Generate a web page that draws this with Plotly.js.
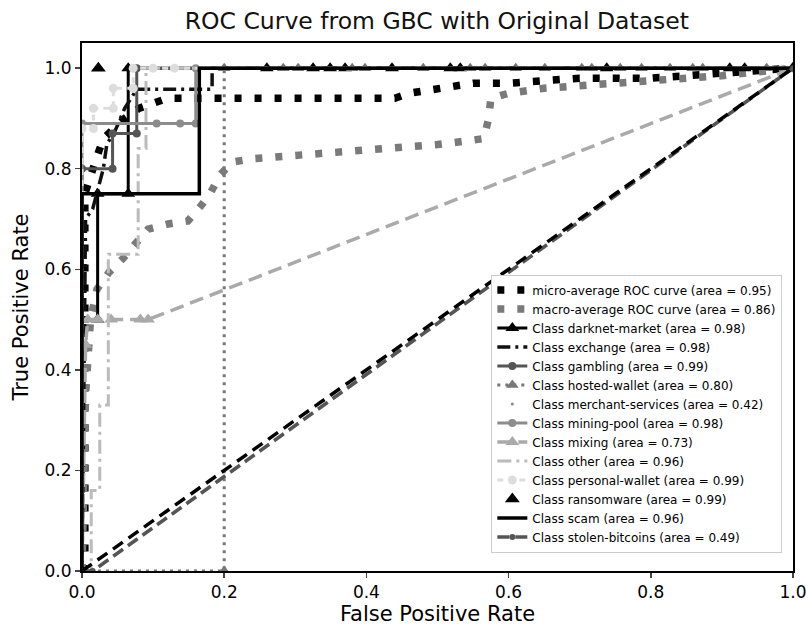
<!DOCTYPE html>
<html>
<head>
<meta charset="utf-8">
<script src="https://cdn.plot.ly/plotly-3.0.1.min.js"></script>
<style>html,body{margin:0;padding:0;background:#fff;}#chart{width:806px;height:631px;}</style>
</head>
<body>
<div id="chart"></div>
<script>
// ---- data ----
const seriesNames = [
  "micro-average ROC curve (area = 0.95)",
  "macro-average ROC curve (area = 0.86)",
  "Class darknet-market (area = 0.98)",
  "Class exchange (area = 0.98)",
  "Class gambling (area = 0.99)",
  "Class hosted-wallet (area = 0.80)",
  "Class merchant-services (area = 0.42)",
  "Class mining-pool (area = 0.98)",
  "Class mixing (area = 0.73)",
  "Class other (area = 0.96)",
  "Class personal-wallet (area = 0.99)",
  "Class ransomware (area = 0.99)",
  "Class scam (area = 0.96)",
  "Class stolen-bitcoins (area = 0.49)"
];
const microFpr = [0, 0.004, 0.004, 0.01, 0.02, 0.03, 0.045, 0.06, 0.08, 0.1, 0.12, 0.2, 0.3, 0.44, 0.46, 0.5, 0.55, 0.6, 0.7, 0.8, 0.9, 1];
const microTpr = [0, 0.02, 0.75, 0.78, 0.82, 0.86, 0.88, 0.9, 0.92, 0.93, 0.94, 0.94, 0.94, 0.94, 0.95, 0.96, 0.97, 0.97, 0.98, 0.98, 0.99, 1];
const macroFpr = [0, 0.005, 0.012, 0.021, 0.038, 0.058, 0.077, 0.093, 0.121, 0.149, 0.166, 0.18, 0.194, 0.211, 0.24, 0.3, 0.4, 0.5, 0.54, 0.565, 0.572, 0.575, 0.6, 0.65, 0.7, 0.8, 0.9, 1];
const macroTpr = [0, 0.35, 0.5, 0.56, 0.594, 0.622, 0.654, 0.68, 0.69, 0.696, 0.724, 0.75, 0.787, 0.813, 0.82, 0.826, 0.836, 0.848, 0.855, 0.86, 0.9, 0.94, 0.95, 0.96, 0.965, 0.975, 0.985, 1];
const darknetFpr = [0, 0, 0.022, 0.022, 0.065, 0.065, 0.26, 0.325, 0.349, 0.37, 0.436, 0.518, 0.532, 0.738, 0.911, 0.932, 1];
const darknetTpr = [0, 0.5, 0.5, 0.75, 0.75, 1, 1, 1, 1, 1, 1, 1, 1, 1, 1, 1, 1];
const exchangeFpr = [0, 0.003, 0.005, 0.015, 0.03, 0.035, 0.045, 0.06, 0.077, 0.183, 0.183, 1];
const exchangeTpr = [0, 0.5, 0.7, 0.72, 0.8, 0.85, 0.87, 0.92, 0.958, 0.958, 1, 1];
const gamblingFpr = [0, 0, 0.043, 0.043, 0.077, 0.077, 1];
const gamblingTpr = [0, 0.8, 0.8, 0.87, 0.87, 1, 1];
const hostedFpr = [0, 0.2, 0.2, 0.283, 0.304, 0.38, 0.398, 0.48, 0.546, 0.567, 0.61, 0.651, 0.703, 0.717, 0.757, 0.787, 0.827, 0.859, 0.873, 0.963, 1];
const hostedTpr = [0, 0, 1, 1, 1, 1, 1, 1, 1, 1, 1, 1, 1, 1, 1, 1, 1, 1, 1, 1, 1];
const merchantFpr = [0, 0.16, 1];
const merchantTpr = [0, 0, 1];
const miningFpr = [0, 0, 0.105, 0.138, 0.16, 0.16, 1];
const miningTpr = [0, 0.89, 0.89, 0.89, 0.89, 1, 1];
const mixingFpr = [0, 0.005, 0.008, 0.022, 0.041, 0.082, 0.093, 1];
const mixingTpr = [0, 0.45, 0.5, 0.5, 0.5, 0.5, 0.5, 1];
const otherFpr = [0, 0.013, 0.013, 0.025, 0.025, 0.037, 0.037, 0.079, 0.079, 0.09, 0.09, 1];
const otherTpr = [0, 0, 0.16, 0.16, 0.33, 0.33, 0.63, 0.63, 0.84, 0.84, 1, 1];
const personalFpr = [0, 0, 0.016, 0.016, 0.044, 0.044, 0.072, 0.072, 0.1, 0.13, 1];
const personalTpr = [0, 0.88, 0.88, 0.92, 0.92, 0.96, 0.96, 1, 1, 1, 1];
const ransomFpr = [0, 0.023, 1];
const ransomTpr = [0, 1, 1];
const scamFpr = [0, 0, 0.165, 0.165, 1];
const scamTpr = [0, 0.75, 0.75, 1, 1];
const stolenFpr = [0, 0.015, 1];
const stolenTpr = [0, 0, 1];
const chanceX = [0, 1];
const chanceY = [0, 1];
const xTicks = [0, 0.2, 0.4, 0.6, 0.8, 1.0];
const yTicks = [0, 0.2, 0.4, 0.6, 0.8, 1.0];
const xTickText = ["0.0", "0.2", "0.4", "0.6", "0.8", "1.0"];
const yTickText = ["0.0", "0.2", "0.4", "0.6", "0.8", "1.0"];

// ---- styles ----
const xs = [microFpr, macroFpr, darknetFpr, exchangeFpr, gamblingFpr, hostedFpr, merchantFpr, miningFpr, mixingFpr, otherFpr, personalFpr, ransomFpr, scamFpr, stolenFpr];
const ys = [microTpr, macroTpr, darknetTpr, exchangeTpr, gamblingTpr, hostedTpr, merchantTpr, miningTpr, mixingTpr, otherTpr, personalTpr, ransomTpr, scamTpr, stolenTpr];
const styles = [
  {mode: "lines", line: {color: "#000", width: 7.5, dash: "7px,13px"}},
  {mode: "lines", line: {color: "#7a7a7a", width: 7.5, dash: "7px,13px"}},
  {mode: "lines+markers", line: {color: "#000", width: 3}, marker: {symbol: "triangle-up", size: 12, color: "#000"}},
  {mode: "lines", line: {color: "#111", width: 3.5, dash: "13px,5px,3px,5px"}},
  {mode: "lines+markers", line: {color: "#555", width: 3}, marker: {symbol: "circle", size: 8, color: "#555"}},
  {mode: "lines+markers", line: {color: "#777", width: 3, dash: "3px,5px"}, marker: {symbol: "triangle-up", size: 11, color: "#777"}},
  {mode: "markers", marker: {symbol: "circle", size: 3, color: "#888"}},
  {mode: "lines+markers", line: {color: "#8c8c8c", width: 3}, marker: {symbol: "circle", size: 8, color: "#8c8c8c"}},
  {mode: "lines+markers", line: {color: "#aaa", width: 3.5, dash: "14px,7px"}, marker: {symbol: "triangle-up", size: 12, color: "#aaa"}},
  {mode: "lines", line: {color: "#bbb", width: 3, dash: "14px,5px,3px,5px"}},
  {mode: "lines+markers", line: {color: "#ddd", width: 3, dash: "6px,5px"}, marker: {symbol: "circle", size: 9, color: "#ddd"}},
  {mode: "markers", marker: {symbol: "triangle-up", size: 13, color: "#000"}},
  {mode: "lines", line: {color: "#000", width: 3.5}},
  {mode: "lines+markers", line: {color: "#555", width: 3.5, dash: "12px,6px"}, marker: {symbol: "circle", size: 6, color: "#555"}}
];

const traces = seriesNames.map((n, i) => Object.assign({type: "scatter", x: xs[i], y: ys[i], name: n}, styles[i]));
traces.push({type: "scatter", mode: "lines", x: chanceX, y: chanceY, showlegend: false, line: {color: "#000", width: 3.5, dash: "12px,7px"}});

const font = "DejaVu Sans, sans-serif";
const layout = {
  width: 806, height: 631,
  margin: {l: 82, r: 13, t: 43, b: 60},
  paper_bgcolor: "#fff", plot_bgcolor: "#fff",
  font: {family: font, color: "#000"},
  title: {text: "ROC Curve from GBC with Original Dataset", font: {size: 23.5, family: font, color: "#111"}, x: 0.542, xanchor: "center", y: 0.967, yanchor: "middle"},
  xaxis: {range: [0, 1], tickvals: xTicks, ticktext: xTickText, showgrid: false, zeroline: false,
    showline: true, mirror: true, linecolor: "#000", linewidth: 2, ticks: "outside", ticklen: 5, tickwidth: 1.5,
    ticklabeloverflow: "allow",
    tickfont: {size: 17, family: font}, title: {text: "False Positive Rate", font: {size: 21, family: font}, standoff: 2}},
  yaxis: {range: [0, 1.05], tickvals: yTicks, ticktext: yTickText, showgrid: false, zeroline: false,
    showline: true, mirror: true, linecolor: "#000", linewidth: 2, ticks: "outside", ticklen: 5, tickwidth: 1.5,
    tickfont: {size: 17, family: font}, title: {text: "True Positive Rate", font: {size: 21, family: font}, standoff: 10}},
  legend: {x: 0.985, xanchor: "right", y: 0.035, yanchor: "bottom", bgcolor: "#fff", bordercolor: "#ccc", borderwidth: 1,
    font: {size: 12, family: font}, tracegroupgap: 0, itemwidth: 30},
  showlegend: true
};
Plotly.newPlot("chart", traces, layout, {staticPlot: true, displayModeBar: false});
</script>
</body>
</html>
